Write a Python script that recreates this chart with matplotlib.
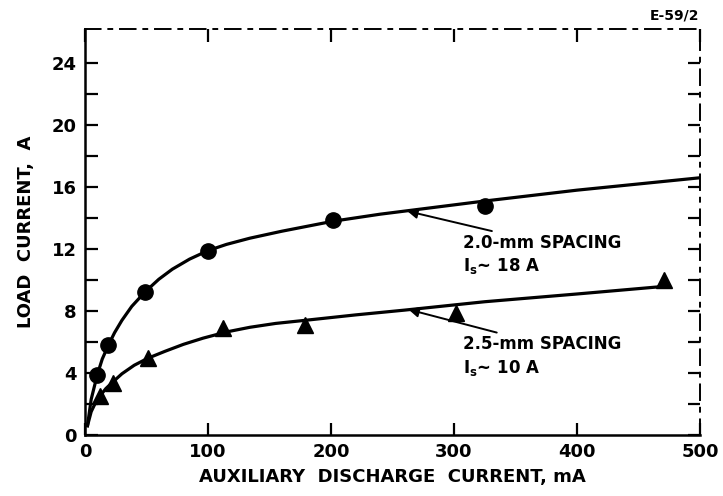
import matplotlib
matplotlib.use("Agg")
import matplotlib.pyplot as plt

# measured points
x_circ = [10, 19, 49, 100, 202, 325]
y_circ = [3.9, 5.8, 9.25, 11.9, 13.9, 14.8]
x_tri = [12, 23, 51, 112, 179, 302, 471]
y_tri = [2.5, 3.35, 4.95, 6.9, 7.1, 7.87, 10.0]

# hand-drawn curves
curve_circ_x = [2, 5, 10, 14, 19, 24, 30, 38, 49, 60, 71, 85, 100, 115, 134, 160,
                202, 240, 260, 325, 400, 500]
curve_circ_y = [0.6, 2.3, 3.9, 4.9, 5.8, 6.6, 7.4, 8.3, 9.25, 10.05, 10.7, 11.35,
                11.9, 12.3, 12.7, 13.15, 13.8, 14.25, 14.45, 15.1, 15.8, 16.6]
curve_tri_x = [2, 5, 8, 12, 17, 23, 30, 40, 51, 65, 80, 96, 115, 134, 155, 179,
               220, 260, 325, 400, 465]
curve_tri_y = [0.6, 1.5, 2.0, 2.5, 3.0, 3.45, 3.95, 4.5, 4.95, 5.4, 5.85, 6.25,
               6.65, 6.95, 7.2, 7.4, 7.75, 8.06, 8.6, 9.1, 9.55]

x_ticks = [0, 100, 200, 300, 400, 500]
y_ticks = [0, 4, 8, 12, 16, 20, 24]

plt.rcParams['font.family'] = ['DejaVu Sans']
plt.rcParams['font.weight'] = 'bold'

fig = plt.figure(figsize=(7.23, 4.96), dpi=100)
ax = fig.add_axes([0.1176, 0.123, 0.8505, 0.8185])

ax.plot(curve_circ_x, curve_circ_y, color='black', lw=2.3)
ax.plot(curve_tri_x, curve_tri_y, color='black', lw=2.3)
ax.plot(x_circ, y_circ, 'o', color='black', ms=11)
ax.plot(x_tri, y_tri, '^', color='black', ms=11)

ax.set_xlim(0, 500)
ax.set_ylim(0, 26.2)
ax.set_xticks(x_ticks)
ax.set_yticks(y_ticks)
ax.set_yticks(range(2, 26, 4), minor=True)
ax.tick_params(direction='in', length=9, width=1.6, labelsize=13, pad=6,
               top=True, right=True)
ax.tick_params(which='minor', direction='in', length=9, width=1.6, right=True)

for s in ['left', 'bottom']:
    ax.spines[s].set_linewidth(1.8)
for s in ['top', 'right']:
    ax.spines[s].set_linestyle((0, (8, 4, 2, 4)))
    ax.spines[s].set_linewidth(1.4)

ax.set_xlabel("AUXILIARY  DISCHARGE  CURRENT, mA",
              fontsize=13, fontweight='bold', labelpad=5)
ax.set_ylabel("LOAD  CURRENT,  A", fontsize=13, fontweight='bold', labelpad=12)

ax.annotate("2.0-mm SPACING", xy=(262, 14.45), xytext=(307, 12.4),
            fontsize=12, fontweight='bold', va='center', ha='left',
            arrowprops=dict(arrowstyle='-|>', color='black', lw=1.4,
                            shrinkA=0, shrinkB=0, mutation_scale=15))
ax.text(307, 10.9, r"I$_\mathbf{s}$~ 18 A", fontsize=12, fontweight='bold', va='center')
ax.annotate("2.5-mm SPACING", xy=(263, 8.1), xytext=(307, 5.85),
            fontsize=12, fontweight='bold', va='center', ha='left',
            arrowprops=dict(arrowstyle='-|>', color='black', lw=1.4,
                            shrinkA=0, shrinkB=0, mutation_scale=15))
ax.text(307, 4.3, r"I$_\mathbf{s}$~ 10 A", fontsize=12, fontweight='bold', va='center')

fig.text(0.967, 0.968, "E-59/2", fontsize=10, fontweight='bold', ha='right', va='center')

fig.savefig("out.png", dpi=100)
